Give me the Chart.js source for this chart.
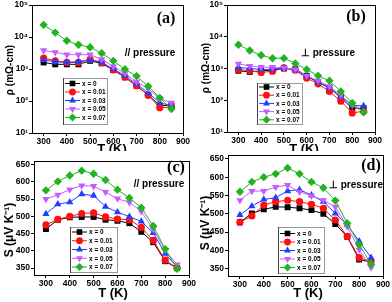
<!DOCTYPE html>
<html><head><meta charset="utf-8">
<script src="https://cdn.jsdelivr.net/npm/chart.js@4.4.1/dist/chart.umd.min.js"></script>
<style>
html,body{margin:0;padding:0;background:#fff;}
#wrap{position:relative;width:392px;height:302px;overflow:hidden;background:#fff;}
canvas{position:absolute;display:block;}
</style></head><body>
<div id="wrap">
<canvas id="ca" width="196" height="166" style="left:0;top:0;width:196px;height:166px;z-index:1"></canvas>
<canvas id="cb" width="196" height="166" style="left:196px;top:0;width:196px;height:166px;z-index:1"></canvas>
<canvas id="cc" width="215" height="151" style="left:0;top:151px;width:215px;height:151px;z-index:2;background:#fff"></canvas>
<canvas id="cd" width="196" height="151" style="left:196px;top:151px;width:196px;height:151px;z-index:3;background:#fff"></canvas>
</div>
<script>
// ---------- data ----------
const temps = [300,350,400,450,500,550,600,650,700,750,800,850];
const seriesLabels = ['x = 0','x = 0.01','x = 0.03','x = 0.05','x = 0.07'];
const xTicks = [300,400,500,600,700,800,900];
const rhoTicks = [10,100,1000,10000,100000];
const rhoTickLabels = ['10\u00B9','10\u00B2','10\u00B3','10\u2074','10\u2075'];
const sTicks = [350,400,450,500,550,600,650];

// (a) resistivity, parallel to pressure (mOhm-cm)
const rhoPar_x0   = [1600,1400,1400,1400,1800,1500,930,550,300,155,72,72];
const rhoPar_x001 = [2200,1800,1600,1600,2000,1600,930,560,300,150,62,64];
const rhoPar_x003 = [1900,1700,1600,1700,1900,1600,1000,620,340,180,87,72];
const rhoPar_x005 = [3800,3300,2800,2800,2800,2000,1200,730,400,245,120,87];
const rhoPar_x007 = [24000,13700,7600,5700,4800,3100,1800,980,600,290,125,56];

// (b) resistivity, perpendicular to pressure
const rhoPerp_x0   = [850,780,850,880,1000,950,590,370,250,120,56,56];
const rhoPerp_x001 = [930,850,750,820,1050,880,500,330,190,93,40,45];
const rhoPerp_x003 = [1080,1000,930,950,1050,880,570,370,240,130,70,66];
const rhoPerp_x005 = [1400,1200,1100,1100,1050,930,590,410,270,145,70,42];
const rhoPerp_x007 = [5600,3700,2600,2100,2100,1450,930,590,410,190,82,42];

// (c) Seebeck, parallel (uV/K)
const sPar_x0   = [463,490,497,498,498,490,487,480,455,425,370,350];
const sPar_x001 = [475,491,500,508,510,498,492,490,468,430,373,350];
const sPar_x003 = [507,535,541,564,560,528,512,499,485,452,392,353];
const sPar_x005 = [550,562,577,589,587,570,551,540,514,462,402,360];
const sPar_x007 = [575,601,618,632,623,605,577,553,525,472,405,348];

// (d) Seebeck, perpendicular
const sPerp_x0   = [477,501,512,519,518,515,510,500,472,437,375,368];
const sPerp_x001 = [477,494,524,533,537,533,526,515,483,438,380,370];
const sPerp_x003 = [497,521,539,544,562,566,551,533,501,470,425,380];
const sPerp_x005 = [537,562,562,573,578,560,549,537,519,465,402,353];
const sPerp_x007 = [560,587,600,609,625,609,587,571,536,474,416,362];

// ---------- styles ----------
const colors = ['#000000','#ff1010','#1f3fff','#c45cff','#22b322'];
const pointStyles = ['rect','circle','triangle','triangle','rectRot'];
const pointRots = [0,0,0,180,0];
const radii = [4.2,3.6,4.2,4.2,4.2];
const SANS = "'Liberation Sans', Arial, sans-serif";
const SERIF = "'Liberation Serif', 'Times New Roman', serif";

Chart.defaults.font.family = SANS;
Chart.defaults.font.weight = 'bold';
Chart.defaults.color = '#000';

function drawMarker(ctx, style, x, y, r, rot) {
  ctx.beginPath();
  if (style === 'rect') {
    const s = Math.SQRT1_2 * r; ctx.rect(x - s, y - s, 2 * s, 2 * s);
  } else if (style === 'circle') {
    ctx.arc(x, y, r, 0, Math.PI * 2);
  } else if (style === 'triangle') {
    let a = (rot || 0) * Math.PI / 180;
    ctx.moveTo(x + Math.sin(a) * r, y - Math.cos(a) * r);
    a += 2 * Math.PI / 3; ctx.lineTo(x + Math.sin(a) * r, y - Math.cos(a) * r);
    a += 2 * Math.PI / 3; ctx.lineTo(x + Math.sin(a) * r, y - Math.cos(a) * r);
    ctx.closePath();
  } else if (style === 'rectRot') {
    ctx.moveTo(x, y - r); ctx.lineTo(x + r, y); ctx.lineTo(x, y + r); ctx.lineTo(x - r, y); ctx.closePath();
  }
  ctx.fill();
}

const framePlugin = {
  id: 'frame',
  afterDraw(chart, args, opts) {
    const ctx = chart.ctx, a = chart.chartArea;
    ctx.save();
    ctx.strokeStyle = '#000'; ctx.lineWidth = 1;
    ctx.strokeRect(Math.round(a.left) + 0.5, Math.round(a.top) + 0.5, Math.round(a.right - a.left), Math.round(a.bottom - a.top));
    // legend box
    const L = opts.legend;
    if (L) {
      ctx.fillStyle = '#fff';
      ctx.fillRect(L.x, L.y, L.w, L.h);
      ctx.strokeStyle = '#999';
      ctx.strokeRect(L.x + 0.5, L.y + 0.5, L.w, L.h);
      ctx.strokeStyle = '#444';
      ctx.beginPath(); ctx.moveTo(L.x + 0.5, L.y); ctx.lineTo(L.x + 0.5, L.y + L.h + 1); ctx.stroke();
      ctx.font = 'bold 6.5px ' + SANS;
      ctx.textBaseline = 'middle'; ctx.textAlign = 'left';
      for (let i = 0; i < seriesLabels.length; i++) {
        const y = L.y0 + i * L.step;
        ctx.strokeStyle = colors[i]; ctx.lineWidth = 1;
        ctx.beginPath(); ctx.moveTo(L.x + 2, y); ctx.lineTo(L.x + 17, y); ctx.stroke();
        ctx.fillStyle = colors[i];
        drawMarker(ctx, pointStyles[i], L.x + 9.5, y, radii[i] * 0.95, pointRots[i]);
        ctx.fillStyle = '#000';
        ctx.fillText(seriesLabels[i], L.x + 19, y + 0.5);
      }
    }
    // texts
    (opts.texts || []).forEach(t => {
      ctx.save();
      ctx.font = t.f; ctx.fillStyle = '#000';
      ctx.textAlign = 'center'; ctx.textBaseline = 'middle';
      ctx.translate(t.x, t.y);
      if (t.rot) ctx.rotate(t.rot * Math.PI / 180);
      ctx.fillText(t.t, 0, 0);
      ctx.restore();
    });
    ctx.restore();
  }
};

function makeChart(id, area, series, yCfg, legend, texts) {
  const cv = document.getElementById(id);
  const W = cv.width, H = cv.height;
  const datasets = series.map((vals, i) => ({
    label: seriesLabels[i],
    data: temps.map((t, k) => ({x: t, y: vals[k]})),
    borderColor: colors[i], backgroundColor: colors[i],
    borderWidth: 1, pointStyle: pointStyles[i], rotation: pointRots[i],
    pointRadius: radii[i], pointBorderWidth: 0, pointHoverRadius: radii[i],
    tension: 0, order: 5 - i
  }));
  const yScale = Object.assign({
    afterFit: s => { s.width = area.L; s.paddingTop = 0; s.paddingBottom = 0; },
    grid: {display: true, drawOnChartArea: false, drawTicks: true, tickLength: 3, color: '#000', lineWidth: 1},
    border: {display: true, color: '#000', width: 1}
  }, yCfg);
  yScale.ticks = Object.assign({color: '#000', font: {size: 8.5, weight: 'bold', family: SANS}, padding: 1, autoSkip: false}, yCfg.ticks || {});
  return new Chart(cv, {
    type: 'line',
    data: {datasets},
    options: {
      responsive: false, animation: false, devicePixelRatio: 1,
      layout: {padding: {left: 0, right: W - area.R, top: area.T, bottom: 0}},
      plugins: {legend: {display: false}, tooltip: {enabled: false}, frame: {legend, texts}},
      scales: {
        x: {
          type: 'linear', min: 250, max: 900,
          afterBuildTicks: s => { s.ticks = xTicks.map(v => ({value: v})); },
          afterFit: s => { s.height = H - area.B; s.paddingLeft = 0; s.paddingRight = 0; },
          ticks: {color: '#000', font: {size: 8.5, weight: 'bold', family: SANS}, padding: 1, maxRotation: 0, autoSkip: false},
          grid: {display: true, drawOnChartArea: false, drawTicks: true, tickLength: 3, color: '#000', lineWidth: 1},
          border: {display: true, color: '#000', width: 1}
        },
        y: yScale
      }
    },
    plugins: [framePlugin]
  });
}

const logY = {
  type: 'logarithmic', min: 10, max: 100000,
  afterBuildTicks: s => { s.ticks = rhoTicks.map(v => ({value: v})); },
  ticks: {callback: (v, i) => rhoTickLabels[i]}
};
const linY = {
  type: 'linear', min: 330, max: 660,
  afterBuildTicks: s => { s.ticks = sTicks.map(v => ({value: v})); },
  ticks: {callback: v => String(v)}
};

makeChart('ca', {L: 32, R: 183, T: 5, B: 133},
  [rhoPar_x0, rhoPar_x001, rhoPar_x003, rhoPar_x005, rhoPar_x007], logY,
  {x: 63, y: 78, w: 44, h: 46, y0: 83.5, step: 8.5},
  [{t: '(a)', x: 166, y: 19, f: 'bold 16px ' + SERIF},
   {t: '// pressure', x: 150, y: 53, f: 'bold 10px ' + SANS},
   {t: 'T (K)', x: 112, y: 149, f: 'bold 13px ' + SANS},
   {t: '\u03C1 (m\u03A9-cm)', x: 10, y: 70, rot: -90, f: 'bold 10px ' + SANS}]);

makeChart('cb', {L: 31, R: 179, T: 5, B: 132},
  [rhoPerp_x0, rhoPerp_x001, rhoPerp_x003, rhoPerp_x005, rhoPerp_x007], logY,
  {x: 61, y: 83, w: 45, h: 41, y0: 87, step: 8.2},
  [{t: '(b)', x: 160, y: 17, f: 'bold 16px ' + SERIF},
   {t: '\u22A5 pressure', x: 132, y: 53, f: 'bold 10px ' + SANS},
   {t: 'T (K)', x: 108, y: 149, f: 'bold 13px ' + SANS},
   {t: '\u03C1 (m\u03A9-cm)', x: 10, y: 68, rot: -90, f: 'bold 10px ' + SANS}]);

makeChart('cc', {L: 34, R: 189, T: 10, B: 124},
  [sPar_x0, sPar_x001, sPar_x003, sPar_x005, sPar_x007], linY,
  {x: 70, y: 76, w: 47, h: 45, y0: 81, step: 8.75},
  [{t: '(c)', x: 176, y: 17, f: 'bold 16px ' + SERIF},
   {t: '// pressure', x: 159, y: 33, f: 'bold 10px ' + SANS},
   {t: 'T (K)', x: 113, y: 142, f: 'bold 13px ' + SANS},
   {t: 'S (\u03BCV K\u207B\u00B9)', x: 9.5, y: 79, rot: -90, f: 'bold 12px ' + SANS}]);

makeChart('cd', {L: 32, R: 187, T: 3, B: 125},
  [sPerp_x0, sPerp_x001, sPerp_x003, sPerp_x005, sPerp_x007], linY,
  {x: 82, y: 76, w: 46, h: 46, y0: 82.5, step: 8.5},
  [{t: '(d)', x: 175, y: 15, f: 'bold 16px ' + SERIF},
   {t: '\u22A5 pressure', x: 160, y: 34, f: 'bold 10px ' + SANS},
   {t: 'T (K)', x: 112, y: 142, f: 'bold 13px ' + SANS},
   {t: 'S (\u03BCV K\u207B\u00B9)', x: 10, y: 72, rot: -90, f: 'bold 12px ' + SANS}]);
</script>
</body></html>
